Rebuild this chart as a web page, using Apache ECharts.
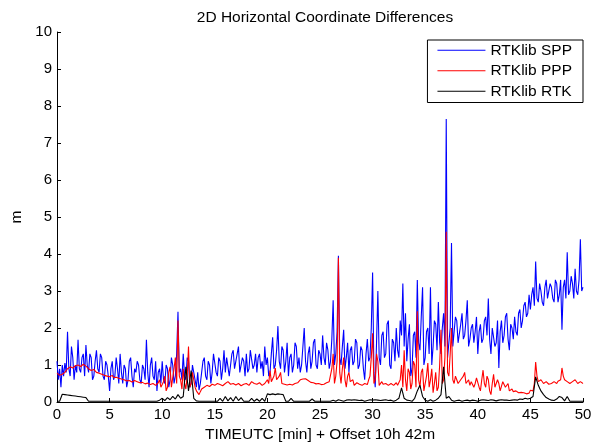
<!DOCTYPE html>
<html>
<head>
<meta charset="utf-8">
<script src="https://cdn.jsdelivr.net/npm/echarts@6/dist/echarts.min.js"></script>
<style>html,body{margin:0;padding:0;background:#fff;}#c{width:602px;height:444px;}</style>
</head>
<body>
<div id="c"></div>
<script>
// Sample spacing of each series (minutes)
const sppStep = 0.125;
const pppStep = 0.125;
const rtkStep = 0.25;
const xTicks = [0, 5, 10, 15, 20, 25, 30, 35, 40, 45, 50];
const yTicks = [0, 1, 2, 3, 4, 5, 6, 7, 8, 9, 10];
const seriesNames = ['RTKlib SPP', 'RTKlib PPP', 'RTKlib RTK'];

const spp = [
 1.1,0.6,0.9,0.4,1.0,0.7,1.05,0.8,
 1.9,0.9,0.7,1.5,1.2,0.6,1.0,0.8,
 1.68,0.9,0.8,1.2,1.3,0.7,1.54,1.0,
 0.8,1.3,1.2,0.6,0.7,1.1,1.4,0.9,
 0.8,1.3,1.2,0.7,0.6,1.1,1.0,0.7,
 0.3,0.9,1.1,0.6,0.7,1.2,0.9,0.5,
 1.3,0.8,0.5,1.0,0.9,0.4,0.6,1.1,
 1.2,0.7,0.4,0.9,0.8,1.1,1.0,0.6,
 0.5,1.0,0.9,0.6,1.68,0.8,0.4,1.0,
 1.2,0.7,0.6,1.1,0.3,0.8,0.9,0.5,
 1.1,0.6,0.5,1.0,0.9,0.4,0.6,1.2,
 1.0,0.5,0.7,1.3,2.44,0.8,0.9,0.6,
 1.3,0.7,0.6,1.2,1.1,0.4,0.5,1.0,
 1.0,0.6,0.4,0.8,0.32,0.5,0.8,1.1,
 1.2,0.7,0.6,1.1,1.0,0.5,0.8,1.3,
 1.3,0.8,0.7,1.2,1.1,0.6,0.9,1.4,
 0.8,1.2,1.2,0.7,1.0,1.3,1.4,0.9,
 0.9,1.3,1.5,0.8,0.8,1.2,1.1,0.7,
 1.3,0.8,0.9,1.4,1.4,0.9,1.0,1.3,
 0.8,1.2,1.3,0.9,1.1,0.7,1.5,1.0,
 1.2,0.7,0.8,1.3,1.75,0.9,1.0,1.4,
 2.05,1.1,0.9,1.5,1.4,0.8,1.1,1.6,
 0.7,1.2,1.3,0.8,1.0,1.6,1.5,0.9,
 1.2,0.8,1.0,1.5,2.0,1.1,0.8,1.3,
 1.5,0.9,1.1,1.6,1.7,1.0,0.9,1.4,
 1.3,1.0,1.8,1.2,1.0,1.6,1.4,0.9,
 1.1,1.7,2.75,1.0,1.3,1.9,3.95,1.2,
 1.0,1.5,1.95,0.9,1.2,1.6,0.8,1.4,
 1.5,1.0,1.1,1.7,1.6,0.9,1.0,1.5,
 1.4,0.9,0.6,1.3,1.7,1.1,1.2,2.0,
 3.5,0.8,0.4,1.6,3.0,1.2,1.0,1.8,
 1.9,1.2,1.3,2.1,2.2,1.0,0.9,1.7,
 1.6,1.1,2.0,1.4,1.2,2.2,1.8,3.2,
 1.5,2.4,1.1,1.7,2.1,0.7,0.9,1.8,
 1.9,1.2,3.3,1.6,1.4,2.3,3.1,1.0,
 1.2,1.9,2.0,1.3,3.1,1.0,1.5,2.2,
 2.1,1.4,2.7,1.6,1.3,2.0,2.4,1.5,
 7.65,1.2,1.6,2.0,4.3,1.5,1.9,2.3,
 2.2,1.6,1.6,2.1,2.4,1.7,1.8,2.2,
 2.75,1.5,1.7,2.0,2.1,1.6,1.9,2.3,
 1.3,1.9,2.1,1.6,1.7,2.2,2.3,1.8,
 2.8,1.7,1.3,2.0,2.0,1.5,1.6,2.2,
 0.92,1.9,2.2,1.6,1.8,2.3,2.4,1.7,
 1.4,2.1,2.0,1.7,2.3,1.9,1.8,2.4,
 2.5,2.0,2.2,2.6,2.7,2.3,2.4,2.9,
 2.5,2.9,3.1,2.6,3.8,2.8,2.7,3.2,
 3.0,2.7,2.6,3.1,3.3,2.8,2.8,3.2,
 3.1,2.8,2.7,3.3,3.2,2.7,2.9,3.3,
 1.95,3.1,3.3,2.8,4.05,2.9,3.0,3.4,
 3.2,2.8,3.6,3.0,2.9,3.3,4.4,3.0,
 3.1
];

const ppp = [
 0.78,0.74,0.72,0.76,0.75,0.73,0.8,0.77,
 0.9,0.86,0.95,0.92,0.92,0.96,0.98,0.94,
 1.0,0.97,0.96,0.99,1.02,0.98,0.97,1.0,
 0.9,0.93,0.85,0.87,0.88,0.84,0.8,0.83,
 0.78,0.8,0.75,0.74,0.72,0.75,0.7,0.72,
 0.68,0.7,0.72,0.66,0.65,0.67,0.62,0.64,
 0.6,0.62,0.58,0.6,0.62,0.57,0.55,0.58,
 0.58,0.54,0.55,0.58,0.6,0.55,0.56,0.52,
 0.5,0.53,0.52,0.49,0.48,0.51,0.5,0.47,
 0.47,0.5,0.5,0.45,0.45,0.52,0.6,0.4,
 0.35,0.55,0.7,0.3,0.4,0.8,0.95,0.4,
 0.45,0.9,1.2,0.5,2.2,0.7,0.6,0.35,
 0.9,0.5,0.35,0.7,1.5,0.4,0.5,0.8,
 0.8,0.4,0.3,0.25,0.2,0.28,0.35,0.38,
 0.4,0.43,0.45,0.42,0.42,0.46,0.48,0.45,
 0.45,0.48,0.5,0.46,0.47,0.44,0.44,0.47,
 0.5,0.53,0.55,0.5,0.48,0.51,0.5,0.47,
 0.46,0.49,0.5,0.45,0.44,0.47,0.48,0.45,
 0.5,0.47,0.45,0.5,0.55,0.52,0.5,0.48,
 0.48,0.5,0.52,0.47,0.45,0.49,0.5,0.55,
 0.6,0.5,0.85,0.55,0.5,0.7,0.92,0.6,
 0.55,0.7,0.8,0.5,0.5,0.48,0.48,0.46,
 0.45,0.48,0.5,0.46,0.47,0.5,0.5,0.52,
 0.55,0.6,0.65,0.62,0.6,0.63,0.62,0.58,
 0.55,0.53,0.5,0.52,0.52,0.49,0.48,0.5,
 0.5,0.47,0.45,0.48,0.5,0.52,0.47,0.55,
 0.6,0.9,1.3,0.5,0.7,1.1,3.9,0.8,
 0.5,0.9,1.2,0.6,0.4,0.7,0.8,0.55,
 0.5,0.6,0.45,0.5,0.52,0.55,0.48,0.5,
 0.45,0.48,0.5,0.46,0.47,0.6,0.7,1.2,
 1.86,0.5,0.6,1.3,1.1,0.45,0.5,0.55,
 0.48,0.5,0.5,0.45,0.45,0.48,0.5,0.47,
 0.45,0.5,0.52,0.45,0.4,0.6,1.0,0.4,
 1.4,0.6,0.3,0.9,0.8,0.35,0.5,1.1,
 1.0,0.4,2.45,0.6,0.4,0.8,0.9,0.3,
 0.3,0.7,1.05,0.4,0.6,0.9,0.25,0.5,
 0.8,0.3,0.4,1.0,1.95,0.5,0.6,1.2,
 4.6,0.8,0.7,1.3,2.0,0.6,0.5,0.7,
 0.6,0.5,0.45,0.6,0.55,0.7,0.8,0.5,
 0.5,0.6,0.45,0.55,0.6,0.4,0.5,0.65,
 0.7,0.4,0.3,0.6,0.86,0.5,0.4,0.7,
 0.6,0.3,0.2,0.5,0.75,0.4,0.45,0.6,
 0.5,0.3,0.35,0.55,0.6,0.4,0.4,0.5,
 0.3,0.35,0.35,0.28,0.25,0.3,0.28,0.25,
 0.3,0.26,0.22,0.25,0.28,0.22,0.2,0.24,
 0.32,0.28,0.3,0.5,1.08,0.7,0.55,0.6,
 0.6,0.55,0.5,0.52,0.55,0.5,0.48,0.52,
 0.5,0.53,0.55,0.5,0.5,0.56,0.58,0.6,
 0.92,0.7,0.6,0.55,0.55,0.52,0.5,0.53,
 0.55,0.58,0.6,0.55,0.5,0.53,0.55,0.57,
 0.5
];

const rtk = [
 0.02,0.02,0.21,0.2, 0.19,0.18,0.17,0.16, 0.15,0.14,0.13,0.12, 0.02,0.02,0.02,0.02, 0.02,0.02,0.02,0.02,
 0.02,0.02,0.02,0.02, 0.02,0.02,0.02,0.02, 0.02,0.02,0.02,0.02, 0.02,0.02,0.02,0.02, 0.02,0.02,0.02,0.05,
 0.1,0.04,0.12,0.06, 0.15,0.08,0.2,0.1, 0.15,0.95,0.3,0.85, 0.1,0.03,0.02,0.02, 0.02,0.02,0.02,0.02,
 0.02,0.02,0.1,0.02, 0.15,0.03,0.12,0.02, 0.15,0.04,0.12,0.02, 0.02,0.02,0.1,0.02, 0.08,0.02,0.1,0.02,
 0.22,0.2,0.22,0.2, 0.22,0.21,0.2,0.02, 0.02,0.1,0.02,0.02, 0.02,0.02,0.02,0.02, 0.02,0.08,0.02,0.02,
 0.02,0.02,0.02,0.02, 0.02,0.05,0.02,0.06, 0.04,0.02,0.05,0.06, 0.05,0.06,0.05,0.04, 0.05,0.02,0.04,0.06,
 0.05,0.06,0.05,0.04, 0.05,0.06,0.04,0.05, 0.02,0.05,0.1,0.38, 0.1,0.05,0.04,0.02, 0.1,0.3,0.45,0.15,
 0.05,0.02,0.06,0.02, 0.05,0.1,0.2,0.95, 0.1,0.15,0.05,0.02, 0.04,0.05,0.02,0.04, 0.05,0.03,0.05,0.04,
 0.02,0.05,0.06,0.05, 0.04,0.06,0.05,0.03, 0.05,0.06,0.05,0.05, 0.04,0.05,0.06,0.05, 0.08,0.07,0.1,0.08,
 0.1,0.15,0.68,0.45, 0.3,0.2,0.12,0.08, 0.05,0.04,0.08,0.15, 0.12,0.03,0.15,0.02, 0.02,0.02,0.02,0.02,
 0.02
];

function pairs(vals, step) {
  return vals.map((v, i) => [i * step, v]);
}

const FONT = '"Liberation Sans", Arial, sans-serif';
const chart = echarts.init(document.getElementById('c'), null, {renderer: 'canvas'});
chart.setOption({
  animation: false,
  backgroundColor: '#fff',
  title: {
    text: '2D Horizontal Coordinate Differences',
    left: 320, top: 5, textAlign: 'center',
    textStyle: {fontFamily: FONT, fontSize: 15.5, fontWeight: 'normal', color: '#000'}
  },
  legend: {
    orient: 'vertical',
    right: 19, top: 40,
    data: seriesNames,
    icon: 'rect',
    itemWidth: 48, itemHeight: 1.2, itemGap: 4,
    padding: [2, 11, 3, 10],
    borderColor: '#000', borderWidth: 1,
    backgroundColor: '#fff',
    textStyle: {fontFamily: FONT, fontSize: 15.5, color: '#000', lineHeight: 16.5}
  },
  grid: {left: 57, right: 19, top: 32, bottom: 42, containLabel: false, outerBoundsMode: 'none'},
  xAxis: {
    type: 'value', min: xTicks[0], max: xTicks[xTicks.length-1], interval: 5,
    name: 'TIMEUTC [min] + Offset 10h 42m',
    nameLocation: 'middle', nameGap: 19,
    nameTextStyle: {fontFamily: FONT, fontSize: 15.5, color: '#000'},
    axisLine: {show: true, onZero: false, lineStyle: {color: '#000', width: 1}},
    axisTick: {show: true, inside: true, length: 4, lineStyle: {color: '#000'}},
    axisLabel: {fontFamily: FONT, fontSize: 15, color: '#000', margin: 5},
    splitLine: {show: false}
  },
  yAxis: {
    type: 'value', min: yTicks[0], max: yTicks[yTicks.length-1], interval: 1,
    name: 'm', nameLocation: 'middle', nameGap: 29, nameRotate: 90,
    nameTextStyle: {fontFamily: FONT, fontSize: 15.5, color: '#000'},
    axisLine: {show: true, lineStyle: {color: '#000', width: 1}},
    axisTick: {show: true, inside: true, length: 4, lineStyle: {color: '#000'}},
    axisLabel: {fontFamily: FONT, fontSize: 15, color: '#000', margin: 5},
    splitLine: {show: false}
  },
  series: [
    {name: seriesNames[0], type: 'line', data: pairs(spp, sppStep), showSymbol: false, symbol: 'none',
     lineStyle: {color: '#0000ff', width: 1.1}, itemStyle: {color: '#0000ff'}},
    {name: seriesNames[1], type: 'line', data: pairs(ppp, pppStep), showSymbol: false, symbol: 'none',
     lineStyle: {color: '#ff0000', width: 1.1}, itemStyle: {color: '#ff0000'}},
    {name: seriesNames[2], type: 'line', data: pairs(rtk, rtkStep), showSymbol: false, symbol: 'none',
     lineStyle: {color: '#000000', width: 1.1}, itemStyle: {color: '#000000'}}
  ]
});
</script>
</body>
</html>
